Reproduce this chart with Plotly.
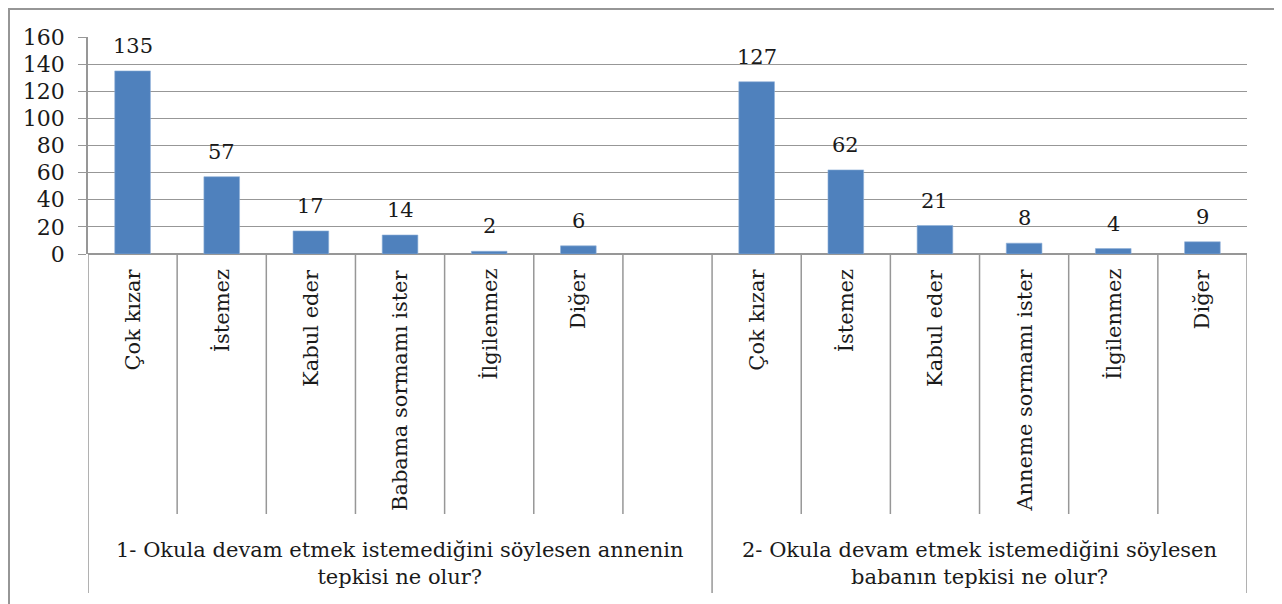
import plotly.graph_objects as go

# ---------------- data ----------------
group_titles = [
    "1- Okula devam etmek istemediğini söylesen annenin<br>tepkisi ne olur?",
    "2- Okula devam etmek istemediğini söylesen<br>babanın tepkisi ne olur?",
]
cats_mother = ["Çok kızar", "İstemez", "Kabul eder", "Babama sormamı ister", "İlgilenmez", "Diğer"]
vals_mother = [135, 57, 17, 14, 2, 6]
cats_father = ["Çok kızar", "İstemez", "Kabul eder", "Anneme sormamı ister", "İlgilenmez", "Diğer"]
vals_father = [127, 62, 21, 8, 4, 9]
y_ticks = [0, 20, 40, 60, 80, 100, 120, 140, 160]

# ---------------- layout constants ----------------
OFF = 8  # page body margin in the browser
W, H = 1282 - OFF, 604 - OFF
PX_L, PX_R, PX_T, PX_B = 88, 1247, 37, 254
ML, MR, MT = PX_L - OFF, (1282 - PX_R), PX_T - OFF
MB = H - (PX_B - OFF)
PW = W - ML - MR
PH = H - MT - MB
FONT = "DejaVu Serif"
FS = 21
TXT = "#1a1a1a"
GRID = "#979797"
BAR = "#4f81bd"

def px2px(px):
    return (px - PX_L) / PW

def py2py(py):
    return (PX_B - py) / PH

n1 = len(cats_mother)
slots1 = n1 + 1
pos_mother = list(range(n1))
pos_father = [slots1 + i for i in range(len(cats_father))]
n_slots = slots1 + len(cats_father)

fig = go.Figure()
fig.add_trace(go.Bar(
    x=pos_mother + pos_father,
    y=vals_mother + vals_father,
    width=0.4,
    marker=dict(color=BAR, line=dict(color="#8fb0d8", width=0.6)),
    hoverinfo="skip",
))

annotations = []
for p, v in zip(pos_mother + pos_father, vals_mother + vals_father):
    annotations.append(dict(x=p, y=v, xref="x", yref="y", text=str(v), showarrow=False,
                            yanchor="bottom", xanchor="center", yshift=11,
                            font=dict(family=FONT, size=FS, color=TXT)))
for p, c in zip(pos_mother + pos_father, cats_mother + cats_father):
    annotations.append(dict(x=p, y=0, xref="x", yref="paper", text=c, showarrow=False,
                            textangle=-90, yanchor="top", xanchor="center", yshift=-13,
                            font=dict(family=FONT, size=FS, color=TXT)))
g_centers = [(-0.5 + slots1 - 0.5) / 2, (slots1 - 0.5 + n_slots - 0.5) / 2]
for gc, gt in zip(g_centers, group_titles):
    annotations.append(dict(x=gc, y=py2py(536), xref="x", yref="paper", text=gt, showarrow=False,
                            yanchor="top", xanchor="center", align="center",
                            font=dict(family=FONT, size=FS, color=TXT)))

shapes = []
for k in range(n_slots + 1):
    xk = k - 0.5
    big = k in (0, slots1, n_slots)
    shapes.append(dict(type="line", xref="x", yref="paper", x0=xk, x1=xk,
                       y0=0, y1=py2py(593 if big else 514),
                       line=dict(color=GRID, width=1.5)))
shapes.append(dict(type="rect", xref="paper", yref="paper",
                   x0=px2px(9), x1=px2px(1276), y0=py2py(640), y1=py2py(9),
                   line=dict(color="#969696", width=2), layer="above"))

fig.update_layout(
    width=W, height=H,
    margin=dict(l=ML, r=MR, t=MT, b=MB, autoexpand=False),
    paper_bgcolor="white", plot_bgcolor="white",
    showlegend=False,
    annotations=annotations,
    shapes=shapes,
    font=dict(family=FONT, size=FS, color=TXT),
    xaxis=dict(range=[-0.5, n_slots - 0.5], showticklabels=False, showgrid=False,
               zeroline=False, showline=False, ticks="", fixedrange=True, automargin=False),
    yaxis=dict(range=[0, 160], tickvals=y_ticks, ticktext=[str(t) for t in y_ticks],
               showgrid=True, gridcolor=GRID, gridwidth=1.3,
               zeroline=True, zerolinecolor=GRID, zerolinewidth=1.5,
               showline=True, linecolor=GRID, linewidth=1.5,
               ticks="outside", ticklen=8, tickcolor=GRID, tickwidth=1.3,
               ticklabelstandoff=9, automargin=False,
               tickfont=dict(family=FONT, size=22, color=TXT), fixedrange=True),
)

fig.write_html("out.html")
